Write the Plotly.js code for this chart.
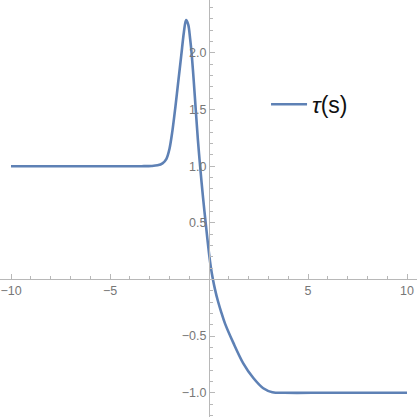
<!DOCTYPE html>
<html>
<head>
<meta charset="utf-8">
<script src="https://cdn.plot.ly/plotly-3.0.1.min.js"></script>
<style>
  html, body { margin: 0; padding: 0; background: #fff; }
  #chart { width: 417px; height: 417px; }
</style>
</head>
<body>
<div id="chart"></div>
<script>
  // values
  const sVals = [-10, -6, -3.4, -2.9, -2.6, -2.35, -2.15, -2.0, -1.85, -1.7, -1.55, -1.4, -1.27, -1.16,
    -1.05, -0.95, -0.87, -0.77, -0.67, -0.56, -0.45, -0.3, -0.15, 0.0, 0.1, 0.2, 0.3, 0.45, 0.62, 0.81,
    1.23, 1.73, 2.24, 2.74, 3.2, 3.8, 6, 10];
  const tauVals = [1, 1, 1, 1.002, 1.008, 1.025, 1.065, 1.15, 1.31, 1.52, 1.75, 1.98, 2.18, 2.29,
    2.25, 2.12, 1.98, 1.75, 1.5, 1.23, 1.0, 0.72, 0.47, 0.23, 0.1, 0.0, -0.085, -0.19, -0.29, -0.39,
    -0.56, -0.74, -0.87, -0.96, -0.995, -1, -1, -1];

  const xTickVals = [-10, -5, 5, 10];
  const xTickText = ['\u221210', '\u22125', '5', '10'];
  const yTickVals = [-1.0, -0.5, 0.5, 1.0, 1.5, 2.0];
  const yTickText = ['\u22121.0', '\u22120.5', '0.5', '1.0', '1.5', '2.0'];

  const xRange = [-10.556, 10.505];
  const yRange = [-1.214, 2.467];

  const axisColor = '#b8b8b8';
  const labelFont = { family: 'Liberation Sans, Arial, sans-serif', size: 12.5, color: '#777' };

  const trace = {
    type: 'scatter',
    mode: 'lines',
    x: sVals,
    y: tauVals,
    name: '<i>\u03c4</i>(s)',
    line: { color: '#5e81b5', width: 2.6, shape: 'spline', smoothing: 0.9 },
    hoverinfo: 'skip'
  };

  const layout = {
    width: 417,
    height: 417,
    margin: { l: 0, r: 0, t: 0, b: 0 },
    paper_bgcolor: 'white',
    plot_bgcolor: 'white',
    showlegend: true,
    legend: {
      x: 0.638, y: 0.75, xanchor: 'left', yanchor: 'middle',
      bgcolor: 'rgba(0,0,0,0)',
      font: { family: 'Liberation Sans, Arial, sans-serif', size: 23, color: '#111' },
      itemwidth: 36
    },
    xaxis: {
      range: xRange,
      anchor: 'free',
      position: (0 - yRange[0]) / (yRange[1] - yRange[0]),
      showgrid: false,
      zeroline: false,
      showline: true,
      linecolor: axisColor,
      linewidth: 1,
      tickmode: 'array',
      tickvals: xTickVals,
      ticktext: xTickText,
      ticks: 'inside',
      ticklen: 5,
      tickwidth: 1,
      tickcolor: axisColor,
      tickfont: labelFont,
      minor: { tickmode: 'linear', tick0: 0, dtick: 1, ticks: 'inside', ticklen: 3, tickwidth: 1, tickcolor: axisColor }
    },
    yaxis: {
      range: yRange,
      anchor: 'free',
      position: (0 - xRange[0]) / (xRange[1] - xRange[0]),
      showgrid: false,
      zeroline: false,
      showline: true,
      linecolor: axisColor,
      linewidth: 1,
      tickmode: 'array',
      tickvals: yTickVals,
      ticktext: yTickText,
      ticks: 'inside',
      ticklen: 5,
      tickwidth: 1,
      tickcolor: axisColor,
      tickfont: labelFont,
      minor: { tickmode: 'linear', tick0: 0, dtick: 0.1, ticks: 'inside', ticklen: 3, tickwidth: 1, tickcolor: axisColor }
    }
  };

  Plotly.newPlot('chart', [trace], layout, { displayModeBar: false, staticPlot: true });
</script>
</body>
</html>
